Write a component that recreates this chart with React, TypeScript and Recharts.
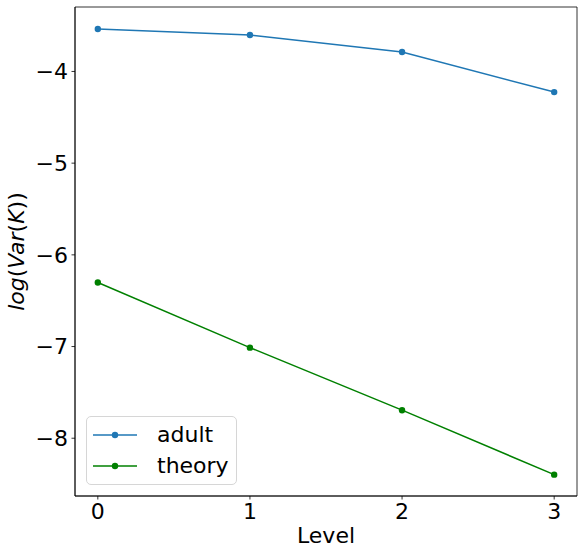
import React from 'react';
import { LineChart, Line, XAxis, YAxis, Legend, Label, ReferenceArea } from 'recharts';

const levels = [0, 1, 2, 3];
const adultValues = [-3.537, -3.603, -3.788, -4.225];
const theoryValues = [-6.301, -7.012, -7.694, -8.397];
const xTicks = [0, 1, 2, 3];
const yTicks = [-8, -7, -6, -5, -4];

const data = levels.map((l, i) => ({ level: l, adult: adultValues[i], theory: theoryValues[i] }));

const FONT = '"DejaVu Sans", sans-serif';
const BLUE = '#1f77b4';
const GREEN = '#008000';
const X_DOMAIN: [number, number] = [-0.15, 3.15];
const Y_DOMAIN: [number, number] = [-8.63, -3.297];

const fmt = (v: number) => String(v).replace('-', '\u2212');

const YLabel = (props: any) => {
  const vb = props.viewBox || {};
  const cx = vb.x + 24;
  const cy = vb.y + vb.height / 2;
  return (
    <text
      x={cx}
      y={cy}
      transform={`rotate(-90, ${cx}, ${cy})`}
      textAnchor="middle"
      fontFamily={FONT}
      fontSize={22}
      fill="#000"
    >
      <tspan fontStyle="italic">log</tspan>
      <tspan>(</tspan>
      <tspan fontStyle="italic">Var</tspan>
      <tspan>(</tspan>
      <tspan fontStyle="italic">K</tspan>
      <tspan>))</tspan>
    </text>
  );
};

const XLabel = (props: any) => {
  const vb = props.viewBox || {};
  return (
    <text
      x={vb.x + vb.width / 2}
      y={vb.y + 47}
      textAnchor="middle"
      fontFamily={FONT}
      fontSize={22}
      fill="#000"
    >
      Level
    </text>
  );
};

const renderLegend = (props: any) => {
  const { payload = [] } = props;
  return (
    <div
      style={{
        width: 151,
        height: 69,
        boxSizing: 'border-box',
        border: '1px solid #d6d6d6',
        borderRadius: 5,
        background: 'rgba(255,255,255,0.8)',
        fontFamily: FONT,
        fontSize: 22,
        color: '#000',
        paddingTop: 2,
      }}
    >
      {payload.map((entry: any) => (
        <div key={entry.value} style={{ display: 'flex', alignItems: 'center', height: 31, lineHeight: '31px' }}>
          <svg width={64} height={12} style={{ marginLeft: 6, flex: 'none' }}>
            <line x1={0} y1={6} x2={44} y2={6} stroke={entry.color} strokeWidth={1.5} />
            <circle cx={22} cy={6} r={3.2} fill={entry.color} />
          </svg>
          <span>{entry.value}</span>
        </div>
      ))}
    </div>
  );
};

export default function App() {
  return (
    <div style={{ position: 'absolute', left: 0, top: 0, width: 583, height: 554, background: '#fff' }}>
      <LineChart width={583} height={554} data={data} margin={{ top: 7, right: 6, left: 0, bottom: 0 }}>
        <XAxis
          dataKey="level"
          type="number"
          domain={X_DOMAIN}
          allowDataOverflow
          ticks={xTicks}
          height={58}
          tickSize={3.5}
          tickMargin={3.5}
          tick={{ fill: '#000', fontSize: 22, fontFamily: FONT }}
          tickLine={{ stroke: '#000', strokeWidth: 0.8 }}
          axisLine={{ stroke: '#000', strokeWidth: 0.8 }}
          tickFormatter={fmt}
          label={<Label content={<XLabel />} />}
        />
        <YAxis
          type="number"
          domain={Y_DOMAIN}
          allowDataOverflow
          ticks={yTicks}
          width={75}
          tickSize={3.5}
          tickMargin={3.5}
          tick={{ fill: '#000', fontSize: 22, fontFamily: FONT }}
          tickLine={{ stroke: '#000', strokeWidth: 0.8 }}
          axisLine={{ stroke: '#000', strokeWidth: 0.8 }}
          tickFormatter={fmt}
          label={<Label content={<YLabel />} />}
        />
        <ReferenceArea
          x1={X_DOMAIN[0]}
          x2={X_DOMAIN[1]}
          y1={Y_DOMAIN[0]}
          y2={Y_DOMAIN[1]}
          fill="none"
          fillOpacity={0}
          stroke="#000"
          strokeWidth={0.8}
          strokeOpacity={1}
          ifOverflow="visible"
        />
        <Legend
          layout="vertical"
          align="center"
          verticalAlign="middle"
          content={renderLegend}
          wrapperStyle={{ position: 'absolute', left: 86, top: 416, width: 151, height: 69 }}
        />
        <Line
          name="adult"
          dataKey="adult"
          stroke={BLUE}
          strokeWidth={1.5}
          dot={{ r: 3.2, fill: BLUE, stroke: 'none' }}
          activeDot={false}
          isAnimationActive={false}
        />
        <Line
          name="theory"
          dataKey="theory"
          stroke={GREEN}
          strokeWidth={1.5}
          dot={{ r: 3.2, fill: GREEN, stroke: 'none' }}
          activeDot={false}
          isAnimationActive={false}
        />
      </LineChart>
    </div>
  );
}
